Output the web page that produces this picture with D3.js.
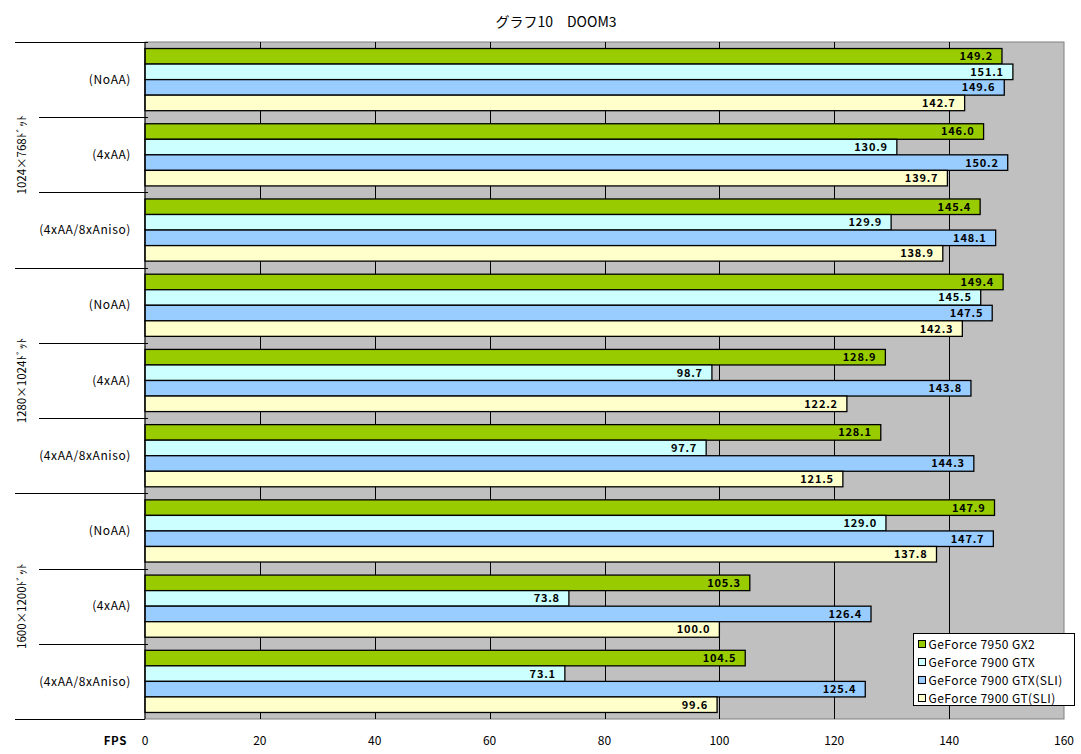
<!DOCTYPE html>
<html>
<head>
<meta charset="utf-8">
<script src="https://cdn.jsdelivr.net/npm/d3@7"></script>
<style>
  body { margin: 0; background: #fff; }
  text { font-family: "Noto Sans CJK JP", "DejaVu Sans", sans-serif; }
</style>
</head>
<body>
<svg id="chart" width="1081" height="754"></svg>
<script>
// Chart data
const resolutions = ['1024×768ﾄﾞｯﾄ', '1280×1024ﾄﾞｯﾄ', '1600×1200ﾄﾞｯﾄ'];
const settings = ['(NoAA)', '(4xAA)', '(4xAA/8xAniso)'];
const seriesNames = ['GeForce 7950 GX2', 'GeForce 7900 GTX', 'GeForce 7900 GTX(SLI)', 'GeForce 7900 GT(SLI)'];
const seriesColors = ['#99cc00', '#ccffff', '#99ccff', '#ffffcc'];
// one row per resolution/setting, values in series order
const gx2 = [149.2, 146.0, 145.4, 149.4, 128.9, 128.1, 147.9, 105.3, 104.5];
const gtx = [151.1, 130.9, 129.9, 145.5, 98.7, 97.7, 129.0, 73.8, 73.1];
const gtxSli = [149.6, 150.2, 148.1, 147.5, 143.8, 144.3, 147.7, 126.4, 125.4];
const gtSli = [142.7, 139.7, 138.9, 142.3, 122.2, 121.5, 137.8, 100.0, 99.6];
const xTicks = [0, 20, 40, 60, 80, 100, 120, 140, 160];

const series = [gx2, gtx, gtxSli, gtSli];
const rows = [];
resolutions.forEach((r, i) => settings.forEach((s, j) => rows.push({ res: r, set: s, idx: i * 3 + j })));

const svg = d3.select('#chart');
const m = { left: 145, right: 1064, top: 42, bottom: 719 };

const x = d3.scaleLinear().domain([0, 160]).range([m.left, m.right]);
const y = d3.scaleBand().domain(rows.map(d => d.idx)).range([m.top, m.bottom]);
const ySub = d3.scaleBand().domain(d3.range(4)).range([0, y.bandwidth()]).paddingInner(0).paddingOuter(0.42);

// title
svg.append('text')
  .attr('x', 556).attr('y', 27)
  .attr('text-anchor', 'middle')
  .attr('font-size', 14)
  .text('グラフ10　DOOM3');

// plot background
svg.append('rect')
  .attr('x', m.left).attr('y', m.top)
  .attr('width', m.right - m.left).attr('height', m.bottom - m.top)
  .attr('fill', '#c0c0c0')
  .attr('stroke', '#808080');

// vertical grid
svg.append('g')
  .selectAll('line')
  .data(xTicks.filter(t => t > 0 && t < 160))
  .join('line')
    .attr('x1', d => Math.round(x(d)) + 0.5).attr('x2', d => Math.round(x(d)) + 0.5)
    .attr('y1', m.top).attr('y2', m.bottom)
    .attr('stroke', '#000');

// bars
const barData = [];
rows.forEach(r => series.forEach((s, k) => barData.push({ row: r.idx, k, v: s[r.idx] })));

const bar = svg.append('g')
  .selectAll('g')
  .data(barData)
  .join('g');

bar.append('rect')
  .attr('x', m.left)
  .attr('y', d => y(d.row) + ySub(d.k))
  .attr('width', d => x(d.v) - m.left)
  .attr('height', ySub.bandwidth())
  .attr('fill', d => seriesColors[d.k])
  .attr('stroke', '#000')
  .attr('stroke-width', 1.3);

bar.append('text')
  .attr('x', d => x(d.v) - 9)
  .attr('y', d => y(d.row) + ySub(d.k) + ySub.bandwidth() / 2)
  .attr('dy', '0.36em')
  .attr('text-anchor', 'end')
  .attr('font-size', 11)
  .attr('font-weight', 700)
  .attr('font-family', 'Arial, "Liberation Sans", sans-serif')
  .attr('letter-spacing', 0.8)
  .text(d => d.v.toFixed(1));

// left axis line
svg.append('line')
  .attr('x1', m.left).attr('x2', m.left)
  .attr('y1', m.top).attr('y2', m.bottom)
  .attr('stroke', '#000');

// category separators
const sep = svg.append('g').attr('stroke', '#000');
d3.range(10).forEach(i => {
  const yy = Math.round(m.top + i * y.step()) + 0.5;
  sep.append('line')
    .attr('x1', i % 3 === 0 ? 15 : 39)
    .attr('x2', i === 9 ? m.left : m.left + 3)
    .attr('y1', yy).attr('y2', yy);
});

// inner labels
svg.append('g')
  .selectAll('text')
  .data(rows)
  .join('text')
    .attr('x', 131)
    .attr('y', d => y(d.idx) + y.bandwidth() / 2)
    .attr('dy', '0.35em')
    .attr('text-anchor', 'end')
    .attr('font-size', 12)
    .attr('letter-spacing', 0.6)
    .text(d => d.set);

// outer labels (rotated)
svg.append('g')
  .selectAll('text')
  .data(resolutions)
  .join('text')
    .attr('transform', (d, i) => `translate(26,${m.top + (i * 3 + 1.5) * y.step()}) rotate(-90)`)
    .attr('text-anchor', 'middle')
    .attr('font-size', 11.5)
    .text(d => d);

// x tick labels
svg.append('g')
  .selectAll('text')
  .data(xTicks)
  .join('text')
    .attr('x', d => x(d))
    .attr('y', 745)
    .attr('text-anchor', 'middle')
    .attr('font-size', 12)
    .text(d => d);

svg.append('text')
  .attr('x', 127).attr('y', 745)
  .attr('text-anchor', 'end')
  .attr('font-size', 11.5)
  .attr('font-weight', 700)
  .attr('font-family', 'Arial, "Liberation Sans", sans-serif')
  .attr('letter-spacing', 0.6)
  .text('FPS');

// legend
const lg = svg.append('g').attr('transform', 'translate(913.5,633.5)');
lg.append('rect')
  .attr('width', 161).attr('height', 72)
  .attr('fill', '#fff').attr('stroke', '#000');
const item = lg.selectAll('g')
  .data(seriesNames)
  .join('g')
    .attr('transform', (d, i) => `translate(5,${11 + i * 18})`);
item.append('rect')
  .attr('x', 0).attr('y', -4)
  .attr('width', 7).attr('height', 7)
  .attr('fill', (d, i) => seriesColors[i])
  .attr('stroke', '#000');
item.append('text')
  .attr('x', 10).attr('dy', '0.35em')
  .attr('font-size', 12)
  .attr('letter-spacing', 0.45)
  .text(d => d);
</script>
</body>
</html>
